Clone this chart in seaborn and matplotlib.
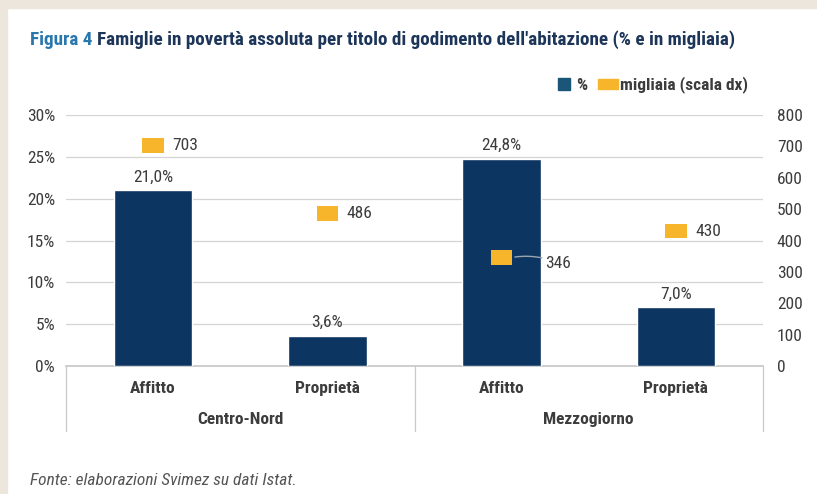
import matplotlib
matplotlib.use("Agg")
import matplotlib.pyplot as plt
from matplotlib import font_manager
from matplotlib.patches import Rectangle
from matplotlib.lines import Line2D
import seaborn as sns
import pandas as pd

# ---- data ----
categories = ["Affitto", "Proprietà", "Affitto ", "Proprietà "]
cat_labels = ["Affitto", "Proprietà", "Affitto", "Proprietà"]
groups = ["Centro-Nord", "Mezzogiorno"]
pct_values = [21.0, 3.6, 24.8, 7.0]
thousands_values = [703, 486, 346, 430]
left_ticks = [0, 5, 10, 15, 20, 25, 30]
right_ticks = [0, 100, 200, 300, 400, 500, 600, 700, 800]

sns.set_theme(style="white")
avail = {f.name for f in font_manager.fontManager.ttflist}
fam = None
for cand in ["Roboto Condensed", "Liberation Sans Narrow", "DejaVu Sans Condensed", "Roboto", "DejaVu Sans"]:
    if cand in avail:
        fam = cand
        break
plt.rcParams["font.family"] = [fam, "DejaVu Sans"]

NAVY = "#0d3561"
ORANGE = "#f7b52c"
TXT = "#3c3c3c"
GRID = "#d4d4d4"
FS = 12.5

df = pd.DataFrame({"cat": categories, "pct": pct_values, "k": thousands_values})

fig = plt.figure(figsize=(8.17, 4.94), dpi=100)
fig.patch.set_facecolor("white")
fig.add_artist(Rectangle((0, 0), 7 / 817, 1, transform=fig.transFigure, color="#ede6dc", zorder=0))
fig.add_artist(Rectangle((0, 1 - 8 / 494), 1, 8 / 494, transform=fig.transFigure, color="#ede6dc", zorder=0))

ax = fig.add_axes([66 / 817, 1 - 366 / 494, (763 - 66) / 817, (366 - 115) / 494])
sns.barplot(data=df, x="cat", y="pct", color=NAVY, width=0.45, ax=ax, saturation=1, zorder=3)
ax.set_ylim(0, 30)
ax.set_xlim(-0.5, 3.5)
ax.set_yticks(left_ticks)
ax.set_yticklabels([f"{t}%" for t in left_ticks], color=TXT, fontsize=FS)
ax.grid(axis="y", color=GRID, linewidth=0.9, zorder=0)
ax.set_xlabel("")
ax.set_ylabel("")
ax.set_xticks([0, 1, 2, 3])
ax.set_xticklabels(cat_labels, color=TXT, fontsize=FS, fontweight="bold")
ax.tick_params(axis="x", length=0, pad=11)
ax.tick_params(axis="y", length=0, pad=8)
for s in ["top", "right", "left"]:
    ax.spines[s].set_visible(False)
ax.spines["bottom"].set_color("#c8c8c8")

for i, v in enumerate(pct_values):
    ax.text(i, v + 0.7, f"{v:.1f}%".replace(".", ","), ha="center", va="bottom",
            color=TXT, fontsize=FS)

for xs in [-0.5, 1.5, 3.5]:
    ax.plot([xs, xs], [0, -0.26], transform=ax.get_xaxis_transform(), color="#c8c8c8",
            linewidth=0.9, clip_on=False)
for gi, g in enumerate(groups):
    ax.text(0.5 + 2 * gi, -0.215, g, transform=ax.get_xaxis_transform(), ha="center",
            va="center", color=TXT, fontsize=FS, fontweight="bold")

ax2 = ax.twinx()
ax2.set_ylim(0, 800)
ax2.set_yticks(right_ticks)
ax2.set_yticklabels([str(t) for t in right_ticks], color=TXT, fontsize=FS)
ax2.tick_params(axis="y", length=0, pad=10)
for s in ["top", "right", "left", "bottom"]:
    ax2.spines[s].set_visible(False)
rect_marker = [(-1.5, -1), (1.5, -1), (1.5, 1), (-1.5, 1), (-1.5, -1)]
sns.scatterplot(x=[0, 1, 2, 3], y=thousands_values, ax=ax2, marker=rect_marker, s=240,
                color=ORANGE, edgecolor="none", zorder=5, legend=False)
ax2.set_xlim(-0.5, 3.5)
for i, v in enumerate(thousands_values):
    if i == 2:
        ax2.annotate(str(v), xy=(i + 0.06, v), xytext=(i + 0.25, v - 18), ha="left", va="center",
                     color=TXT, fontsize=FS,
                     arrowprops=dict(arrowstyle="-", color="#9aa5b0", lw=1,
                                     connectionstyle="arc3,rad=0.15", shrinkA=0, shrinkB=2))
    else:
        ax2.text(i + 0.11, v, str(v), ha="left", va="center", color=TXT, fontsize=FS)

wide_marker = [(-2, -1), (2, -1), (2, 1), (-2, 1), (-2, -1)]
handles = [Line2D([0], [0], marker="s", linestyle="none", markersize=8, color="#1b5577"),
           Line2D([0], [0], marker=wide_marker, linestyle="none", markersize=15, color=ORANGE)]
leg = fig.legend(handles, ["%", "migliaia (scala dx)"], loc="center right",
                 bbox_to_anchor=(764 / 817, 1 - 85 / 494), ncol=2, frameon=False,
                 fontsize=FS, handletextpad=0.2, columnspacing=0.7, handlelength=1.0)
for t in leg.get_texts():
    t.set_color(TXT)
    t.set_fontweight("bold")

t1 = fig.text(30 / 817, 1 - 40 / 494, "Figura 4 ", color="#2a77ad", fontsize=13.8,
              fontweight="bold", va="center", ha="left")
fig.canvas.draw()
bb = t1.get_window_extent()
fig.text(bb.x1 / 817, 1 - 40 / 494,
         "Famiglie in povertà assoluta per titolo di godimento dell'abitazione (% e in migliaia)",
         color="#1c3558", fontsize=13.8, fontweight="bold", va="center", ha="left")

fig.text(30 / 817, 1 - 480 / 494, "Fonte: elaborazioni Svimez su dati Istat.", color="#555555",
         fontsize=12.5, style="italic", va="center", ha="left")

fig.savefig("out.png", dpi=100, facecolor="white")
